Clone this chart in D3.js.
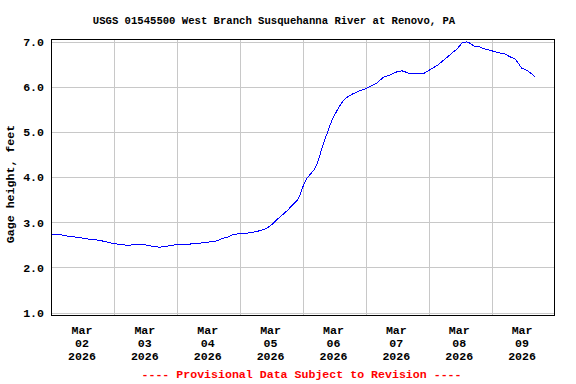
<!DOCTYPE html>
<html>
<head>
<meta charset="utf-8">
<script src="https://cdn.jsdelivr.net/npm/d3@7"></script>
<style>
  body { margin: 0; background: #fff; }
  text { font-family: "Liberation Mono", "DejaVu Sans Mono", monospace; font-weight: bold; }
</style>
</head>
<body>
<script>
/** - - - - - - DATA
*/
var title = "USGS 01545500 West Branch Susquehanna River at Renovo, PA";
var y_label = "Gage height, feet";
var footer = "---- Provisional Data Subject to Revision ----";

var start_time = "2026-03-02T00:00";
var end_time = "2026-03-10T00:00";

// hours since Mar 02 00:00
var hours = [0, 4, 5.5, 8.5, 11, 12.75, 15.75, 18.5, 20, 21.5, 23.5, 26.5, 29.25, 32, 35,
  36.75, 38.75, 41, 43.25, 45.5, 48.25, 53, 58.5, 63.25, 65, 67.5, 69.25, 72, 74.5, 76.5,
  78.5, 81, 82.5, 84.25, 86, 88, 90, 91.75, 93.75, 95, 95.5, 96.5, 97.5, 99, 100.25, 101.5,
  102.5, 103.5, 105.25, 107, 109, 111, 112.5, 114.75, 117, 119.75, 122.25, 124.5, 126.5,
  129.25, 131.5, 133.75, 135.75, 137.25, 141.75, 143.75, 147.25, 150.25, 153, 154.75,
  156.75, 158.5, 159.75, 161.25, 163, 165.5, 168.25, 170.5, 173.25, 175, 177, 178, 179.5,
  181.5, 183.5, 184.5];

var gage_ft = [2.73, 2.72, 2.70, 2.68, 2.66, 2.64, 2.62, 2.60, 2.58, 2.56, 2.53, 2.51, 2.49,
  2.51, 2.51, 2.49, 2.47, 2.45, 2.46, 2.49, 2.51, 2.52, 2.55, 2.59, 2.64, 2.68, 2.73, 2.75,
  2.76, 2.78, 2.80, 2.84, 2.88, 2.96, 3.06, 3.16, 3.26, 3.37, 3.49, 3.62, 3.73, 3.86, 3.98,
  4.08, 4.17, 4.32, 4.50, 4.70, 4.98, 5.26, 5.48, 5.67, 5.76, 5.84, 5.90, 5.96, 6.03, 6.10,
  6.21, 6.27, 6.33, 6.36, 6.32, 6.29, 6.29, 6.36, 6.48, 6.62, 6.76, 6.84, 6.98, 7.00, 6.97,
  6.91, 6.90, 6.84, 6.80, 6.76, 6.73, 6.67, 6.62, 6.54, 6.42, 6.37, 6.28, 6.23];

var y_ticks = [1, 2, 3, 4, 5, 6, 7];
var day_labels = ["02", "03", "04", "05", "06", "07", "08", "09"];
var month_label = "Mar";
var year_label = "2026";

/** - - - - - - DRAW
*/
var width = 576, height = 384;
var left = 51.5, right = 554.5, top_ = 39.5, bottom = 315.5;

var parse = d3.timeParse("%Y-%m-%dT%H:%M");
var t0 = parse(start_time), t1 = parse(end_time);

var data = hours.map(function(h, i) {
  return { t: new Date(t0.getTime() + h * 3600e3), v: gage_ft[i] };
});

var x = d3.scaleTime().domain([t0, t1]).range([left, right]);
var y = d3.scaleLinear().domain([1, 7]).range([312.6, 41.9]);

var svg = d3.select("body").append("svg")
  .attr("width", width)
  .attr("height", height);

// title
svg.append("text")
  .attr("x", 274).attr("y", 24)
  .attr("text-anchor", "middle")
  .style("font-size", "10.6px")
  .text(title);

// horizontal grid
svg.append("g").selectAll("line")
  .data(y_ticks)
  .enter().append("line")
  .attr("x1", left).attr("x2", right)
  .attr("y1", function(d) { return Math.round(y(d)) + 0.5; })
  .attr("y2", function(d) { return Math.round(y(d)) + 0.5; })
  .attr("stroke", "#c8c8c8")
  .attr("shape-rendering", "crispEdges");

// vertical grid, one per day
var days = d3.timeDay.range(d3.timeDay.offset(t0, 1), t1);
svg.append("g").selectAll("line")
  .data(days)
  .enter().append("line")
  .attr("x1", function(d) { return Math.round(x(d)) + 0.5; })
  .attr("x2", function(d) { return Math.round(x(d)) + 0.5; })
  .attr("y1", top_).attr("y2", bottom)
  .attr("stroke", "#c8c8c8")
  .attr("shape-rendering", "crispEdges");

// gage line
var line = d3.line()
  .x(function(d) { return x(d.t); })
  .y(function(d) { return y(d.v); });

svg.append("path")
  .datum(data)
  .attr("d", line)
  .attr("fill", "none")
  .attr("stroke", "#0000ff")
  .attr("stroke-width", 1)
  .attr("shape-rendering", "crispEdges");

// frame
svg.append("rect")
  .attr("x", left).attr("y", top_)
  .attr("width", right - left).attr("height", bottom - top_)
  .attr("fill", "none")
  .attr("stroke", "#000")
  .attr("shape-rendering", "crispEdges");

// y tick labels
svg.append("g").selectAll("text")
  .data(y_ticks)
  .enter().append("text")
  .attr("x", 44)
  .attr("y", function(d) { return y(d); })
  .attr("dy", "0.36em")
  .attr("text-anchor", "end")
  .style("font-size", "11.6px")
  .text(function(d) { return d3.format(".1f")(d); });

// y axis label
svg.append("text")
  .attr("transform", "translate(14,184) rotate(-90)")
  .attr("text-anchor", "middle")
  .style("font-size", "11.6px")
  .text(y_label);

// x labels at noon of each day
var noons = day_labels.map(function(d, i) {
  return d3.timeHour.offset(d3.timeDay.offset(t0, i), 12);
});
var xl = svg.append("g").selectAll("text")
  .data(noons)
  .enter().append("text")
  .attr("text-anchor", "middle")
  .style("font-size", "11.6px");
xl.append("tspan")
  .attr("x", function(d) { return x(d) - 1; })
  .attr("y", 334)
  .text(month_label);
xl.append("tspan")
  .attr("x", function(d) { return x(d) - 1; })
  .attr("y", 347)
  .text(function(d, i) { return day_labels[i]; });
xl.append("tspan")
  .attr("x", function(d) { return x(d) - 1; })
  .attr("y", 360)
  .text(year_label);

// provisional footer
svg.append("text")
  .attr("x", 301.5).attr("y", 378)
  .attr("text-anchor", "middle")
  .attr("fill", "#ff0000")
  .style("font-size", "11.6px")
  .text(footer);
</script>
</body>
</html>
